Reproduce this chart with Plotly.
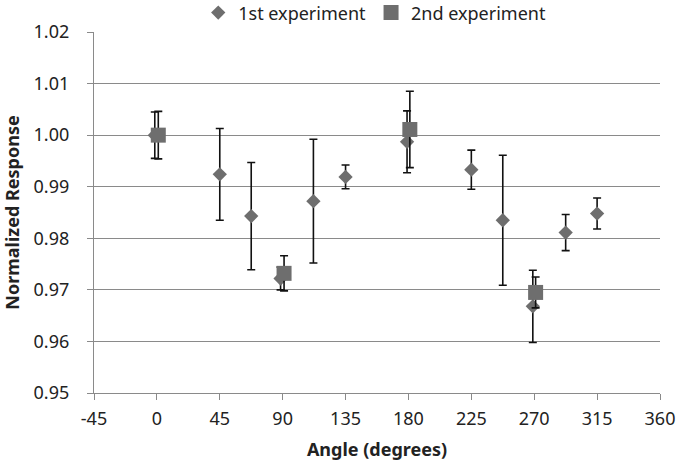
import plotly.graph_objects as go

# 1st experiment (diamonds)
angle_1 = [-1.5, 45, 67.5, 88.5, 112, 135, 179, 225, 247.5, 269, 292.5, 315]
resp_1 = [1.0000, 0.9924, 0.9843, 0.9722, 0.9872, 0.9919, 0.9987, 0.9933, 0.9835, 0.9668, 0.9811, 0.9848]
err_1 = [0.0045, 0.0089, 0.0104, 0.0022, 0.0120, 0.0023, 0.0060, 0.0038, 0.0126, 0.0070, 0.0035, 0.0030]

# 2nd experiment (squares)
angle_2 = [1, 91, 181, 271]
resp_2 = [1.0000, 0.9732, 1.0011, 0.9695]
err_2 = [0.0046, 0.0034, 0.0074, 0.0030]

x_ticks = [-45, 0, 45, 90, 135, 180, 225, 270, 315, 360]
y_ticks = [0.95, 0.96, 0.97, 0.98, 0.99, 1.00, 1.01, 1.02]

marker_color = "#6e6e6e"
axis_color = "#8a8a8a"
font_family = "Noto Sans, DejaVu Sans, sans-serif"

fig = go.Figure()
fig.add_trace(go.Scatter(
    x=angle_1, y=resp_1, mode="markers", name="1st experiment",
    marker=dict(symbol="diamond", size=11, color=marker_color),
    error_y=dict(type="data", array=err_1, visible=True, color="#111111", thickness=1.6, width=4),
))
fig.add_trace(go.Scatter(
    x=angle_2, y=resp_2, mode="markers", name="2nd experiment",
    marker=dict(symbol="square", size=15, color=marker_color),
    error_y=dict(type="data", array=err_2, visible=True, color="#111111", thickness=1.6, width=4),
))

fig.update_layout(
    width=676, height=461,
    margin=dict(l=94, r=16, t=32, b=68, autoexpand=False),
    paper_bgcolor="white", plot_bgcolor="white",
    font=dict(family=font_family, size=18, color="#222222"),
    showlegend=True,
    legend=dict(orientation="h", x=0.496, xanchor="center", xref="paper",
                y=1.053, yanchor="middle", yref="paper",
                font=dict(size=18), itemwidth=30, tracegroupgap=0,
                bgcolor="rgba(0,0,0,0)", borderwidth=0),
)
fig.update_xaxes(
    range=[-45, 360], tickvals=x_ticks, ticktext=[str(v) for v in x_ticks],
    showgrid=False, zeroline=False, showline=True, linecolor=axis_color, linewidth=1.3,
    ticks="outside", ticklen=6, tickcolor=axis_color, tickfont=dict(size=18),
    ticklabelstandoff=3, automargin=False,
    title=dict(text="<b>Angle (degrees)</b>", font=dict(size=18), standoff=14),
)
fig.update_yaxes(
    range=[0.95, 1.02], tickvals=y_ticks, ticktext=[f"{v:.2f}" for v in y_ticks],
    showgrid=True, gridcolor=axis_color, gridwidth=1.3, zeroline=False,
    showline=True, linecolor=axis_color, linewidth=1.3,
    ticks="outside", ticklen=6, tickcolor=axis_color, tickfont=dict(size=18),
    ticklabelstandoff=14, automargin=False,
    title=dict(text="<b>Normalized Response</b>", font=dict(size=18), standoff=32),
)

fig.write_html("out.html", config={"displayModeBar": False},
               post_script="document.body.style.margin='0';")
